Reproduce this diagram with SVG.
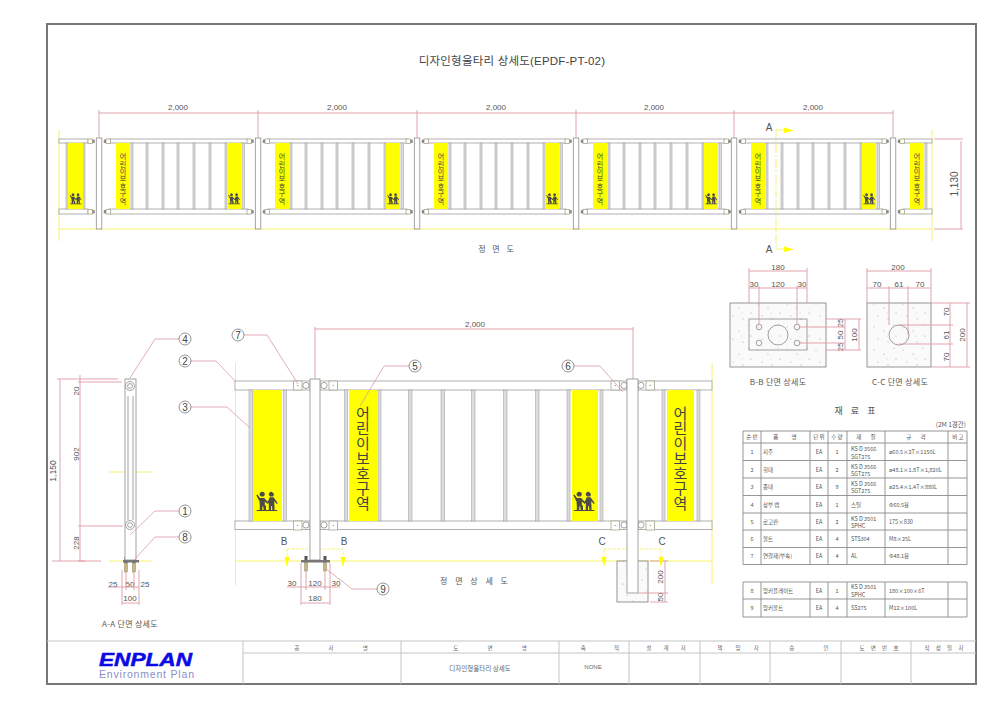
<svg xmlns="http://www.w3.org/2000/svg" xmlns:xlink="http://www.w3.org/1999/xlink" width="1000" height="707" viewBox="0 0 1000 707">
<style>
text{font-family:"Liberation Sans","Noto Sans CJK KR",sans-serif;fill:#555}
.d{font-size:8px;text-anchor:middle}
.k{font-family:"Noto Sans CJK KR","Liberation Sans",sans-serif;font-size:8px;text-anchor:middle;fill:#555}
.h{font-family:"Noto Sans CJK KR","Liberation Sans",sans-serif;font-size:5.5px;text-anchor:middle;fill:#666}
.t{font-family:"Noto Sans CJK KR","Liberation Sans",sans-serif;font-size:5.5px;fill:#555}
.tm{text-anchor:middle}
.dim{fill:none;stroke:#dc9aa4;stroke-width:.9}
.lead{fill:none;stroke:#dc9aa4;stroke-width:.8}
.y{fill:none;stroke:#f6f060;stroke-width:.9}
.ys{fill:#ffff00;stroke:none}
.p{fill:#fff;stroke:#8c8c8c;stroke-width:.8}
.r{fill:#fff;stroke:#a8a8a8;stroke-width:.9}
.bar{fill:#dcdcdc;stroke:#999;stroke-width:.5}
.v{fill:none;stroke:#8a8a8a;stroke-width:.8}
.fr{fill:none;stroke:#777;stroke-width:2}
.tb{fill:none;stroke:#c4c4c4;stroke-width:1}
.g{fill:none;stroke:#8a8a8a;stroke-width:.9}
.cl{fill:#fff;stroke:#a5a58c;stroke-width:.8}
.bal{fill:#fff;stroke:#777;stroke-width:.8}
.n{font-size:10px;text-anchor:middle;fill:#444}
.conc{fill:url(#sp);stroke:#8a8a8a;stroke-width:.9}
.vt{font-family:"Noto Sans CJK KR",sans-serif;writing-mode:vertical-rl;fill:#444}
</style>
<defs>
<pattern id="sp" width="29" height="23" patternUnits="userSpaceOnUse">
<rect width="29" height="23" fill="#fafafa"/>
<g fill="#a0a0a0"><circle cx="4" cy="5" r=".5"/><circle cx="14" cy="9" r=".6"/><circle cx="24" cy="3" r=".5"/><circle cx="26" cy="14" r=".6"/><circle cx="8" cy="17" r=".5"/><circle cx="18" cy="20" r=".6"/><circle cx="17" cy="14" r=".4"/></g>
</pattern>
<g id="kids">
<path fill="#4a4a4a" d="M4.2 0.8a2.5 2.5 0 1 1 3.2 3.6h-2.400a2.500 2.500 0 0 1-.8-3.600zM13.2 1a2.500 2.500 0 1 1 3.600 3.400h-2.600a2.500 2.500 0 0 1-1-3.400zM0.300 3.200L1.400 2.500L4 6H8.300L11.500 9.700L13 7.200L13.500 5.300H17.500L21.800 11.300L20.700 12L18.300 9V13H18.500V18H16.300L16 14H15.200L15 18H12.800V13L13 10.800L11.800 12L8.800 9.500V13.200L10 13.400V18H7.600L7.300 14.500H6.400L6.200 18H3.800V13.400L3.500 9.500zM0.800 18H21.300V19H0.800z"/>
</g>
<g id="cR"><rect class="cl" x="0" y="0" width="4.500" height="4.500"/><rect x="-2.200" y=".6" width="2.200" height="3.300" fill="#888"/></g>
<g id="cL"><rect class="cl" x="0" y="0" width="4.500" height="4.500"/><rect x="4.500" y=".6" width="2.200" height="3.300" fill="#888"/></g>
<g id="span">
<rect class="r" x="10" y="139" width="139" height="4"/>
<rect class="r" x="10" y="209" width="139" height="5"/>
<rect class="bar" x="32" y="143" width="2" height="66"/>
<rect class="bar" x="47" y="143" width="2" height="66"/>
<rect class="bar" x="63" y="143" width="2" height="66"/>
<rect class="bar" x="78" y="143" width="2" height="66"/>
<rect class="bar" x="94" y="143" width="2" height="66"/>
<rect class="bar" x="110" y="143" width="2" height="66"/>
<rect class="bar" x="126" y="143" width="2" height="66"/>
<rect class="bar" x="143" y="143" width="2.500" height="66"/>
<rect class="ys" x="17" y="143" width="14" height="66"/>
<rect class="ys" x="128" y="143" width="14" height="66"/>
<text class="vt" x="24" y="153" font-size="7" letter-spacing=".4">어린이보호구역</text>
<use xlink:href="#kids" transform="translate(129,193.500) scale(.56)"/>
<use xlink:href="#cR" x="7" y="139"/><use xlink:href="#cR" x="7" y="209.500"/>
<use xlink:href="#cL" x="148" y="139"/><use xlink:href="#cL" x="148" y="209.500"/>
</g>
<g id="cD"><rect class="cl" x="0" y="0" width="8.500" height="9"/><circle cx="4.200" cy="4.500" r=".6" fill="#666"/></g>
<circle id="cC" class="p" r="3.100"/>
<g id="anchor"><rect x="-1.500" y="0" width="3" height="6" fill="#555"/><rect x="-1.500" y="6" width="3" height="9" fill="#c8b878" stroke="#777" stroke-width=".4"/></g>
</defs>
<rect width="1000" height="707" fill="#fff"/>
<g id="frame">
<rect class="fr" x="47" y="24" width="929" height="660"/>
<line x1="47" y1="641" x2="976" y2="641" class="tb"/>
<line x1="243" y1="653" x2="976" y2="653" class="tb"/>
<path class="tb" d="M243 641V684M401 641V684M559 641V684M629 641V684M700 641V684M770 641V684M841 641V684M911 641V684"/>
</g>
<g id="title"><text x="512" y="65" font-size="11.500" text-anchor="middle" style="fill:#444;letter-spacing:.2px">디자인형울타리 상세도(EPDF-PT-02)</text></g>
<g id="guides">
<path class="y" d="M59 229H932M59 130V241M932 130V241M235.500 363V585M712 363V585M235 561H712M109 561H152M109 472H152"/>
<path class="y" stroke-dasharray="3 1.500" d="M287 549H343V557M287 549V557M604 549H661V557M604 549V557"/>
</g>
<g id="front-elevation">
<use xlink:href="#span" x="99"/><use xlink:href="#span" x="258"/><use xlink:href="#span" x="417"/><use xlink:href="#span" x="576"/><use xlink:href="#span" x="734"/>
<rect class="r" x="59" y="139" width="29" height="4"/><rect class="r" x="59" y="209" width="29" height="5"/>
<rect class="bar" x="66" y="143" width="2" height="66"/><rect class="bar" x="83" y="143" width="2" height="66"/>
<rect class="ys" x="68" y="143" width="15" height="66"/>
<use xlink:href="#kids" transform="translate(69.500,193.500) scale(.56)"/>
<use xlink:href="#cL" x="88" y="139"/><use xlink:href="#cL" x="88" y="209.500"/>
<rect class="r" x="903" y="139" width="29" height="4"/><rect class="r" x="903" y="209" width="29" height="5"/>
<rect class="bar" x="925" y="143" width="2" height="66"/>
<rect class="ys" x="910" y="143" width="14" height="66"/>
<text class="vt" x="917" y="153" font-size="7" letter-spacing=".4">어린이보호구역</text>
<use xlink:href="#cR" x="900" y="139"/><use xlink:href="#cR" x="900" y="209.500"/>
<rect class="p" x="96.300" y="138" width="5.500" height="91"/><rect class="p" x="255.300" y="138" width="5.500" height="91"/><rect class="p" x="414.300" y="138" width="5.500" height="91"/><rect class="p" x="573.300" y="138" width="5.500" height="91"/><rect class="p" x="731.300" y="138" width="5.500" height="91"/><rect class="p" x="890.300" y="138" width="5.500" height="91"/>
<text class="d" x="178" y="110">2,000</text><text class="d" x="337" y="110">2,000</text><text class="d" x="496" y="110">2,000</text><text class="d" x="654" y="110">2,000</text><text class="d" x="813" y="110">2,000</text>
<text x="769" y="131" font-size="10" text-anchor="middle">A</text><text x="769" y="253" font-size="10" text-anchor="middle">A</text>
<text class="d" style="font-size:10px" transform="translate(958,184) rotate(-90)">1,130</text>
<text class="k" x="496" y="252" word-spacing="5">정 면 도</text>
</g>
<g id="detail-elevation">
<rect class="r" x="235" y="381" width="75" height="9"/><rect class="r" x="320" y="381" width="307" height="9"/><rect class="r" x="638" y="381" width="74" height="9"/>
<rect class="r" x="235" y="521" width="75" height="8.500"/><rect class="r" x="320" y="521" width="307" height="8.500"/><rect class="r" x="638" y="521" width="74" height="8.500"/>
<rect class="bar" x="249" y="390" width="3.500" height="131"/><rect class="bar" x="283.500" y="390" width="3" height="131"/><rect class="bar" x="344.500" y="390" width="3" height="131"/><rect class="bar" x="378" y="390" width="3" height="131"/><rect class="bar" x="408.500" y="390" width="3.500" height="131"/><rect class="bar" x="441" y="390" width="3.500" height="131"/><rect class="bar" x="471.500" y="390" width="3.500" height="131"/><rect class="bar" x="503.500" y="390" width="3.500" height="131"/><rect class="bar" x="535.500" y="390" width="3.500" height="131"/><rect class="bar" x="567" y="390" width="3" height="131"/><rect class="bar" x="600" y="390" width="3" height="131"/><rect class="bar" x="662" y="390" width="3" height="131"/><rect class="bar" x="697" y="390" width="3" height="131"/>
<rect class="ys" x="253" y="390" width="29" height="131"/><rect class="ys" x="349" y="390" width="28" height="131"/><rect class="ys" x="572" y="390" width="26" height="131"/><rect class="ys" x="667" y="390" width="27" height="131"/>
<use xlink:href="#kids" x="256" y="492"/><use xlink:href="#kids" x="573" y="492"/>
<text class="vt" x="363" y="406" font-size="15">어린이보호구역</text>
<text class="vt" x="680.500" y="406" font-size="15">어린이보호구역</text>
<use xlink:href="#cD" x="293.500" y="381"/><use xlink:href="#cD" x="329" y="381"/><use xlink:href="#cD" x="293.500" y="521"/><use xlink:href="#cD" x="329" y="521"/>
<use xlink:href="#cD" x="611" y="381"/><use xlink:href="#cD" x="646" y="381"/><use xlink:href="#cD" x="611" y="521"/><use xlink:href="#cD" x="646" y="521"/>
<use xlink:href="#cC" x="306" y="385.500"/><use xlink:href="#cC" x="324" y="385.500"/><use xlink:href="#cC" x="306" y="525"/><use xlink:href="#cC" x="324" y="525"/>
<use xlink:href="#cC" x="624" y="385.500"/><use xlink:href="#cC" x="641" y="385.500"/><use xlink:href="#cC" x="624" y="525"/><use xlink:href="#cC" x="641" y="525"/>
<use xlink:href="#anchor" x="306" y="556"/><use xlink:href="#anchor" x="325" y="556"/>
<rect class="p" x="310" y="379" width="10" height="181"/>
<rect x="301" y="560" width="29" height="2.500" fill="#777"/>
<rect class="conc" x="617" y="561" width="31" height="41"/>
<rect class="p" x="627" y="379" width="11" height="214"/>
<text class="d" x="475" y="327">2,000</text>
<text class="d" x="292" y="586">30</text><text class="d" x="315" y="586">120</text><text class="d" x="336" y="586">30</text><text class="d" x="315" y="601">180</text>
<text x="284" y="545" font-size="10" text-anchor="middle">B</text><text x="344" y="545" font-size="10" text-anchor="middle">B</text>
<text x="602" y="545" font-size="10" text-anchor="middle">C</text><text x="662" y="545" font-size="10" text-anchor="middle">C</text>
<text class="d" transform="translate(663,577) rotate(-90)">200</text><text class="d" transform="translate(663,597) rotate(-90)">50</text>
<text class="k" x="474" y="584" word-spacing="6">정 면 상 세 도</text>
</g>
<g id="section-aa">
<use xlink:href="#anchor" x="126" y="557"/><use xlink:href="#anchor" x="134" y="557"/>
<rect class="p" x="125" y="379" width="11" height="181"/>
<path class="v" d="M128 396V520M133 396V520"/>
<circle class="p" cx="130" cy="386" r="4.500"/><circle class="p" cx="130" cy="386" r="2.400"/>
<circle class="p" cx="130" cy="525" r="4.500"/><circle class="p" cx="130" cy="525" r="2.400"/>
<rect x="123" y="560" width="16" height="2.500" fill="#777"/>
<text class="d" transform="translate(56,471) rotate(-90)" style="font-size:8.500px">1,150</text>
<text class="d" transform="translate(79,391) rotate(-90)">20</text><text class="d" transform="translate(79,454) rotate(-90)">902</text><text class="d" transform="translate(79,543) rotate(-90)">228</text>
<text class="d" x="113" y="587">25</text><text class="d" x="130" y="587">50</text><text class="d" x="145" y="587">25</text><text class="d" x="130" y="601">100</text>
<text class="k" x="130" y="627" style="letter-spacing:.3px">A-A 단면 상세도</text>
</g>
<g id="section-bb">
<rect class="conc" x="730" y="303" width="96" height="64"/>
<rect class="v" x="749" y="319" width="58" height="31"/>
<circle class="v" cx="778" cy="335" r="10"/>
<circle class="v" cx="759" cy="327" r="2.800"/><circle class="v" cx="797" cy="327" r="2.800"/><circle class="v" cx="759" cy="343" r="2.800"/><circle class="v" cx="797" cy="343" r="2.800"/>
<text class="d" x="778" y="270">180</text><text class="d" x="754" y="287">30</text><text class="d" x="778" y="287">120</text><text class="d" x="802" y="287">30</text>
<text class="d" transform="translate(843,323) rotate(-90)">25</text><text class="d" transform="translate(843,335) rotate(-90)">50</text><text class="d" transform="translate(843,347) rotate(-90)">25</text><text class="d" transform="translate(857,335) rotate(-90)">100</text>
<text class="k" x="778" y="385" style="letter-spacing:.3px">B-B 단면 상세도</text>
</g>
<g id="section-cc">
<rect class="conc" x="867" y="303" width="64" height="64"/>
<circle class="v" cx="899" cy="335" r="10"/>
<text class="d" x="898" y="270">200</text><text class="d" x="877" y="287">70</text><text class="d" x="899" y="287">61</text><text class="d" x="920" y="287">70</text>
<text class="d" transform="translate(949,312) rotate(-90)">70</text><text class="d" transform="translate(949,335) rotate(-90)">61</text><text class="d" transform="translate(949,357) rotate(-90)">70</text><text class="d" transform="translate(965,335) rotate(-90)">200</text>
<text class="k" x="900" y="385" style="letter-spacing:.3px">C-C 단면 상세도</text>
</g>
<g id="connectors">
<path class="dim" d="M99 113H893M99 110V138M258 110V138M417 110V138M576 110V138M734 110V138M893 110V138"/>
<path class="dim" d="M934 139H963M934 229H963M961 141V229"/>
<path class="dim" d="M315 329H633M315 327V379M633 327V379"/>
<path class="dim" d="M60 379V561M57 379H118M52 561H101M80 375V561M78 382H122M78 526H123M78 561H85"/>
<path class="dim" d="M108 587H139M126 572V590M134 572V590M122 570V605M139 570V605M122 603H139"/>
<path class="dim" d="M287 587H340M306 571V590M325 571V590M301 563V605M330 563V605M301 603H330"/>
<path class="dim" d="M665 561V602M650 561H668M638 593H668M650 602H668"/>
<path class="dim" d="M749 271H807M749 268V303M807 268V303M749 288H807M759 286V325M797 286V325M845 319V350M859 319V350M826 319H861M826 350H861M800 327H845M800 343H845"/>
<path class="dim" d="M867 271H931M867 268V303M931 268V303M867 288H931M889 286V325M908 286V335M950 303V367M967 303V367M931 303H970M931 367H970M899 325H953M899 344H953"/>
<path class="lead" d="M179 339H155L130 378M179 361H216L236 382M179 407H227L250 428M179 511H155L130 535M179 537H155L134 560M244 335H267L298 384M409 366H384L360 406M377 589H352L325 568M574 366H600L623 392"/>
<path class="y" stroke-dasharray="9 2 2 2" d="M776 129V249"/>
<path class="y" d="M776 130H784M776 249H784"/>
<path class="ys" d="M784 127.500L794 130.500L784 133zM784 246.500L794 249.500L784 252zM284.500 557H289.500L287 567zM340.500 557H345.500L343 567zM601.500 557H606.500L604 567zM658.500 557H663.500L661 567z"/>
</g>
<g id="balloon-1"><circle class="bal" cx="185" cy="511" r="6"/><text class="n" x="185" y="514.500">1</text></g>
<g id="balloon-2"><circle class="bal" cx="185" cy="361" r="6"/><text class="n" x="185" y="364.500">2</text></g>
<g id="balloon-3"><circle class="bal" cx="185" cy="407" r="6"/><text class="n" x="185" y="410.500">3</text></g>
<g id="balloon-4"><circle class="bal" cx="185" cy="339" r="6"/><text class="n" x="185" y="342.500">4</text></g>
<g id="balloon-5"><circle class="bal" cx="415" cy="366" r="6"/><text class="n" x="415" y="369.500">5</text></g>
<g id="balloon-6"><circle class="bal" cx="568" cy="366" r="6"/><text class="n" x="568" y="369.500">6</text></g>
<g id="balloon-7"><circle class="bal" cx="238" cy="335" r="6"/><text class="n" x="238" y="338.500">7</text></g>
<g id="balloon-8"><circle class="bal" cx="185" cy="537" r="6"/><text class="n" x="185" y="540.500">8</text></g>
<g id="balloon-9"><circle class="bal" cx="383" cy="589" r="6"/><text class="n" x="383" y="592.500">9</text></g>
<g id="materials-table">
<path class="g" d="M743 431H967M743 443H967M743 460.500H967M743 478H967M743 495.500H967M743 513H967M743 530H967M743 547.500H967M743 564.500H967M743 431V564.500M761 431V564.500M810 431V564.500M828 431V564.500M847 431V564.500M885 431V564.500M948 431V564.500M967 431V564.500"/>
<path class="g" d="M743 582H967M743 599H967M743 617H967M743 582V617M761 582V617M810 582V617M828 582V617M847 582V617M885 582V617M948 582V617M967 582V617"/>
<text class="k" x="855" y="414" word-spacing="6" style="font-size:9px">재 료 표</text>
<text class="t" x="966" y="427" text-anchor="end" style="font-size:6.500px">(2M 1경간)</text>
<text class="t tm" x="752" y="439">순 번</text><text class="t tm" x="785" y="439" word-spacing="12">품 명</text><text class="t tm" x="819" y="439">단 위</text><text class="t tm" x="837" y="439">수 량</text><text class="t tm" x="866" y="439" word-spacing="8">재 질</text><text class="t tm" x="916" y="439" word-spacing="8">규 격</text><text class="t tm" x="958" y="439">비 고</text>
<text class="t tm" x="752" y="454">1</text><text class="t" x="763" y="454">지주</text><text class="t tm" x="819" y="454">EA</text><text class="t tm" x="837" y="454">1</text><text class="t" x="851" y="451">KS D 3566</text><text class="t" x="851" y="458.500">SGT275</text><text class="t" x="889" y="454">ø60.5×2T×1150L</text>
<text class="t tm" x="752" y="472">2</text><text class="t" x="763" y="472">횡대</text><text class="t tm" x="819" y="472">EA</text><text class="t tm" x="837" y="472">2</text><text class="t" x="851" y="468.500">KS D 3566</text><text class="t" x="851" y="476">SGT275</text><text class="t" x="889" y="472">ø48.1×1.8T×1,820L</text>
<text class="t tm" x="752" y="489">3</text><text class="t" x="763" y="489">종대</text><text class="t tm" x="819" y="489">EA</text><text class="t tm" x="837" y="489">9</text><text class="t" x="851" y="485.500">KS D 3566</text><text class="t" x="851" y="493">SGT275</text><text class="t" x="889" y="489">ø25.4×1.4T×880L</text>
<text class="t tm" x="752" y="506.500">4</text><text class="t" x="763" y="506.500">상부 캡</text><text class="t tm" x="819" y="506.500">EA</text><text class="t tm" x="837" y="506.500">1</text><text class="t" x="851" y="506.500">스틸</text><text class="t" x="889" y="506.500">Φ60.5용</text>
<text class="t tm" x="752" y="524">5</text><text class="t" x="763" y="524">로고판</text><text class="t tm" x="819" y="524">EA</text><text class="t tm" x="837" y="524">2</text><text class="t" x="851" y="520.500">KS D 3501</text><text class="t" x="851" y="528">SPHC</text><text class="t" x="889" y="524">175×830</text>
<text class="t tm" x="752" y="541">6</text><text class="t" x="763" y="541">볼트</text><text class="t tm" x="819" y="541">EA</text><text class="t tm" x="837" y="541">4</text><text class="t" x="851" y="541">STS304</text><text class="t" x="889" y="541">M8×25L</text>
<text class="t tm" x="752" y="558">7</text><text class="t" x="763" y="558">연결재(부속)</text><text class="t tm" x="819" y="558">EA</text><text class="t tm" x="837" y="558">4</text><text class="t" x="851" y="558">AL</text><text class="t" x="889" y="558">Φ48.1용</text>
<text class="t tm" x="752" y="593">8</text><text class="t" x="763" y="593">앙커플레이트</text><text class="t tm" x="819" y="593">EA</text><text class="t tm" x="837" y="593">1</text><text class="t" x="851" y="589">KS D 3501</text><text class="t" x="851" y="597">SPHC</text><text class="t" x="889" y="593">180×100×6T</text>
<text class="t tm" x="752" y="610">9</text><text class="t" x="763" y="610">앙커볼트</text><text class="t tm" x="819" y="610">EA</text><text class="t tm" x="837" y="610">4</text><text class="t" x="851" y="610">SS275</text><text class="t" x="889" y="610">M12×100L</text>
</g>
<g id="title-block">
<text x="99" y="666" font-size="19" font-weight="700" font-style="italic" textLength="93" lengthAdjust="spacingAndGlyphs" stroke="#0a0ae6" stroke-width=".5" style="fill:#0a0ae6">ENPLAN</text>
<text x="99" y="678" font-size="10.500" textLength="95" style="fill:#8c8cc8">Environment Plan</text>
<text class="h" x="331" y="649.500" word-spacing="28">공 사 명</text>
<text class="h" x="490" y="649.500" word-spacing="28">도 면 명</text>
<text class="h" x="600" y="649.500" word-spacing="27">축 척</text>
<text class="h" x="666" y="649.500" word-spacing="11">설 계 자</text>
<text class="h" x="738" y="649.500" word-spacing="12">책 임 자</text>
<text class="h" x="809" y="649.500" word-spacing="28">승 인</text>
<text class="h" x="879" y="649.500" word-spacing="5">도 면 번 호</text>
<text class="h" x="944" y="649.500" word-spacing="5">작 성 일 자</text>
<text class="h" x="480" y="671" style="font-size:6.500px">디자인형울타리 상세도</text>
<text class="h" x="593" y="669" style="font-family:'Liberation Sans',sans-serif;font-size:6px">NONE</text>
</g>
</svg>
